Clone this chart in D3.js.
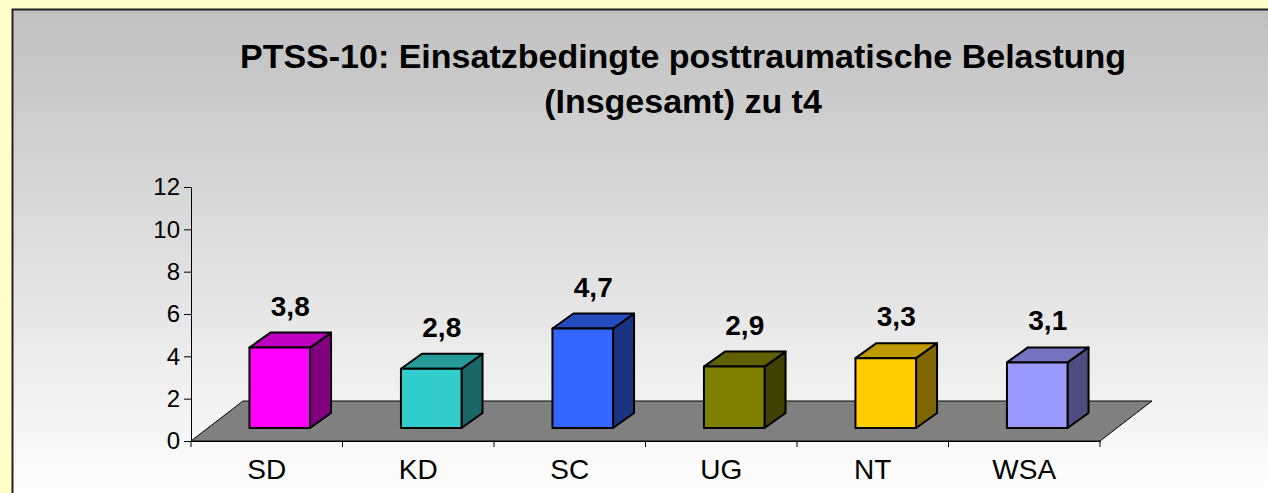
<!DOCTYPE html>
<html>
<head>
<meta charset="utf-8">
<script src="https://cdn.jsdelivr.net/npm/d3@7"></script>
<style>
  html, body { margin: 0; padding: 0; background: #FFFFCC; }
  svg { display: block; font-family: "Liberation Sans", Arial, sans-serif; }
</style>
</head>
<body>
<div class="chart"></div>
<script>
const titleLines = ['PTSS-10: Einsatzbedingte posttraumatische Belastung', '(Insgesamt) zu t4'];
const categories = ['SD', 'KD', 'SC', 'UG', 'NT', 'WSA'];
const values = [3.8, 2.8, 4.7, 2.9, 3.3, 3.1];
const valueLabels = ['3,8', '2,8', '4,7', '2,9', '3,3', '3,1'];
const frontColors = ['#FF00FF', '#33CCCC', '#3366FF', '#808000', '#FFCC00', '#9999FF'];
const yTicks = [0, 2, 4, 6, 8, 10, 12];

function shade(c, k) {
  let r = d3.rgb(c);
  return d3.rgb(r.r * k, r.g * k, r.b * k).formatHex();
}

function drawChart() {
  let width = 1268,
    height = 493;
  let svg = d3.select('.chart').append('svg')
    .attr('width', width)
    .attr('height', height);

  let grad = svg.append('defs').append('linearGradient')
    .attr('id', 'panelGrad')
    .attr('x1', 0).attr('y1', 0).attr('x2', 0).attr('y2', 1);
  grad.append('stop').attr('offset', '0%').attr('stop-color', '#C0C0C0');
  grad.append('stop').attr('offset', '100%').attr('stop-color', '#FFFFFF');

  svg.append('rect')
    .attr('x', 12.5).attr('y', 9.5)
    .attr('width', width).attr('height', height)
    .attr('fill', 'url(#panelGrad)')
    .attr('stroke', '#222').attr('stroke-width', 2);

  // title
  svg.append('text')
    .attr('x', 683).attr('y', 68)
    .attr('text-anchor', 'middle')
    .attr('font-size', 34).attr('font-weight', 'bold')
    .selectAll('tspan').data(titleLines).join('tspan')
    .attr('x', 683)
    .attr('dy', (d, i) => i === 0 ? 0 : 45)
    .text(d => d);

  let x = d3.scaleBand().domain(categories).range([191, 1100]);
  let y = d3.scaleLinear().domain([0, 12]).range([441, 187]);

  // floor depth vector, bar front offset and bar depth
  let floorD = [52, -40];
  let barOff = [15, -13];
  let barD = [21, -15];
  let barW = x.bandwidth() * 0.4;

  let x0 = 191, x1 = 1100, y0 = y(0);
  svg.append('path')
    .attr('d', `M${x0},${y0}L${x1},${y0}L${x1 + floorD[0]},${y0 + floorD[1]}L${x0 + floorD[0]},${y0 + floorD[1]}Z`)
    .attr('fill', '#808080')
    .attr('stroke', '#000').attr('stroke-width', 1);

  // y axis
  let yAxis = d3.axisLeft(y).tickValues(yTicks).tickSize(7).tickPadding(4).tickSizeOuter(0);
  let gy = svg.append('g').attr('transform', `translate(${x0},0)`).call(yAxis)
    .attr('font-family', '"Liberation Sans", Arial, sans-serif')
    .attr('font-size', 24);
  gy.selectAll('text').attr('fill', '#000');
  gy.selectAll('line, path').attr('stroke', '#000');

  // x axis
  let xAxis = d3.axisBottom(x).tickSize(0).tickPadding(0).tickSizeOuter(0).tickFormat('');
  let gx = svg.append('g').attr('transform', `translate(0,${y0})`).call(xAxis);
  gx.selectAll('path').attr('stroke', '#000');
  let bounds = categories.map(c => x(c)).concat([x1]);
  gx.selectAll('.bound').data(bounds).join('line')
    .attr('x1', d => d).attr('x2', d => d)
    .attr('y1', 0).attr('y2', 6)
    .attr('stroke', '#000');
  svg.append('g').selectAll('text').data(categories).join('text')
    .attr('x', d => x(d) + x.bandwidth() / 2)
    .attr('y', 479)
    .attr('text-anchor', 'middle')
    .attr('font-size', 28)
    .text(d => d);

  // bars
  let bars = svg.append('g').selectAll('g').data(values).join('g')
    .attr('stroke', '#000').attr('stroke-width', 2).attr('stroke-linejoin', 'round');
  bars.each(function(v, i) {
    let g = d3.select(this);
    let c = categories[i];
    let fx = x(c) + x.bandwidth() / 2 - barW / 2 + barOff[0] - 2;
    let fb = y0 + barOff[1];
    let ft = fb - (y0 - y(v));
    let fr = fx + barW;
    g.append('path')
      .attr('d', `M${fr},${fb}L${fr + barD[0]},${fb + barD[1]}L${fr + barD[0]},${ft + barD[1]}L${fr},${ft}Z`)
      .attr('fill', shade(frontColors[i], 0.5));
    g.append('path')
      .attr('d', `M${fx},${ft}L${fr},${ft}L${fr + barD[0]},${ft + barD[1]}L${fx + barD[0]},${ft + barD[1]}Z`)
      .attr('fill', shade(frontColors[i], 0.75));
    g.append('rect')
      .attr('x', fx).attr('y', ft)
      .attr('width', barW).attr('height', fb - ft)
      .attr('fill', frontColors[i]);
    svg.append('text')
      .attr('x', fx + barW / 2 + barD[0] / 2)
      .attr('y', ft + barD[1] - 17)
      .attr('text-anchor', 'middle')
      .attr('font-size', 28).attr('font-weight', 'bold')
      .text(valueLabels[i]);
  });
}

window.onload = drawChart;
</script>
</body>
</html>
